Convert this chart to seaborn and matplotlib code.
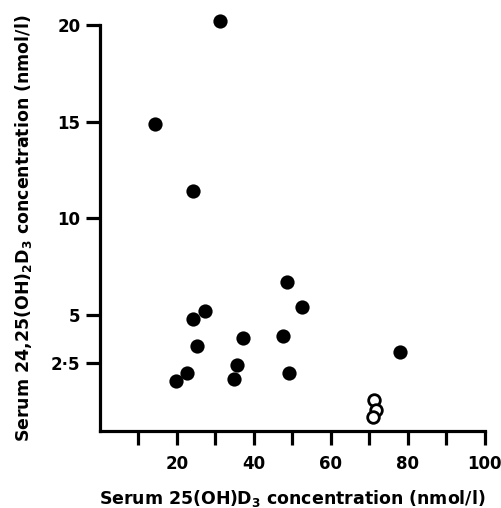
import matplotlib
matplotlib.use("Agg")
from matplotlib import pyplot as plt
import pandas as pd
import seaborn as sns

# filled circles
filled_x = [31.2, 14.3, 24.2, 24.1, 27.3, 25.3, 19.7, 22.7, 35.5, 34.9, 37.1,
            48.5, 52.5, 47.5, 49.1, 78.0]
filled_y = [20.2, 14.9, 11.4, 4.8, 5.2, 3.4, 1.6, 2.0, 2.4, 1.7, 3.8,
            6.7, 5.4, 3.9, 2.0, 3.1]
# open circles
open_x = [71.2, 71.7, 70.9]
open_y = [0.6, 0.1, -0.3]

x_ticks = [20, 40, 60, 80, 100]
x_minor = [10, 30, 50, 70, 90]
y_ticks = [2.5, 5, 10, 15, 20]
y_labels = ["2·5", "5", "10", "15", "20"]

df_filled = pd.DataFrame({"x": filled_x, "y": filled_y})
df_open = pd.DataFrame({"x": open_x, "y": open_y})

sns.set_theme(style="ticks")
plt.rcParams["font.family"] = ["DejaVu Sans"]
plt.rcParams["text.color"] = "black"
plt.rcParams["axes.labelcolor"] = "black"
plt.rcParams["xtick.color"] = "black"
plt.rcParams["ytick.color"] = "black"
plt.rcParams["font.weight"] = "bold"
plt.rcParams["mathtext.default"] = "bf"

fig = plt.figure(figsize=(5.02, 5.08), dpi=100)
ax = fig.add_axes([0.199, 0.1516, 0.767, 0.7994])

sns.scatterplot(data=df_filled, x="x", y="y", s=105, color="black",
                edgecolor="black", linewidth=0, ax=ax, clip_on=False, zorder=3)
sns.scatterplot(data=df_open, x="x", y="y", s=70, facecolor="white",
                edgecolor="black", linewidth=2.0, ax=ax, clip_on=False, zorder=3)

ax.set_xlim(0, 100)
ax.set_ylim(-1.0, 20)
ax.set_xticks(x_ticks)
ax.set_xticks(x_minor, minor=True)
ax.set_yticks(y_ticks)
ax.set_yticklabels(y_labels)

for side in ["top", "right"]:
    ax.spines[side].set_visible(False)
for side in ["left", "bottom"]:
    ax.spines[side].set_linewidth(2.3)
    ax.spines[side].set_color("black")

ax.tick_params(axis="both", which="both", direction="out", width=2.3,
               color="black", labelsize=12)
ax.tick_params(axis="x", which="both", length=10, pad=7)
ax.tick_params(axis="y", length=10, pad=4)

ax.set_xlabel("Serum 25(OH)D$_3$ concentration (nmol/l)", fontsize=12.5,
              fontweight="bold", labelpad=11)
ax.set_ylabel("Serum 24,25(OH)$_2$D$_3$ concentration (nmol/l)", fontsize=12.5,
              fontweight="bold", labelpad=12)

plt.savefig("out.png", dpi=100)
